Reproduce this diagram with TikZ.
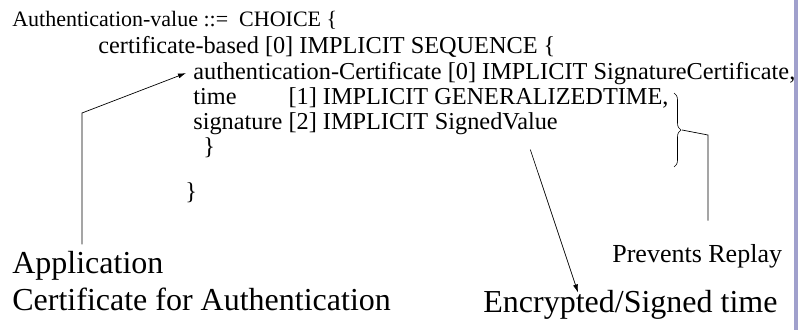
\documentclass[tikz,border=0pt]{standalone}
\usepackage{fontspec}
\setmainfont{Liberation Serif}
\usepackage{tikz}
\usetikzlibrary{positioning,calc,arrows.meta}
\usetikzlibrary{decorations.pathreplacing}
\definecolor{band}{RGB}{160,160,204}
\tikzset{  code/.style={anchor=base west,inner sep=0pt,font=\fontsize{24.3}{24}\selectfont},
  note/.style={anchor=base west,inner sep=0pt,font=\fontsize{32}{32}\selectfont} }

\begin{document}
\begin{tikzpicture}[x=1pt,y=-1pt,->,>={Latex[length=8pt,width=5pt]},line width=0.7pt]
    \useasboundingbox (0,0) rectangle (798,330);
    \fill[band] (794,0) rectangle (798,330);
    % asn.1 text
    \node[code,font=\fontsize{22}{22}\selectfont] (av) at (12,26) {Authentication-value ::=\ \ CHOICE \{};
    \node[code] (cb) at (98,53) {certificate-based [0] IMPLICIT SEQUENCE \{};
    \node[code] (ac) at (193,79) {authentication-Certificate [0] IMPLICIT SignatureCertificate,};
    \node[code] (tm) at (193,104) {\rlap{time}\phantom{signature} [1] IMPLICIT GENERALIZEDTIME,};
    \node[code] (sg) at (193,129) {signature [2] IMPLICIT};
    \node[code,right=6pt of sg.base east,anchor=base west] (sv) {SignedValue};
    \node[code] (sc) at (203,154) {\}};
    \node[code] (cc) at (185,199) {\}};
    % notes
    \node[note] (app) at (12,273) {Application};
    \node[note] (cfa) at (12,310) {Certificate for Authentication};
    \node[code,font=\fontsize{26}{26}\selectfont] (rp) at (612,262) {Prevents Replay};
    \node[note] (et) at (483,312) {Encrypted/Signed time};
    % connectors
    \coordinate (appbend) at (82,113);
    \draw ($(app.north -| appbend)+(0,-6)$) -- (appbend) -- ([xshift=-7pt]ac.west);
    \draw ($(sv.south)+(34,15)$) -- ($(et.north west)+(95,3)$);
    \coordinate (brtop) at (674,93);
    \coordinate (brbot) at (674,167);
    \draw[-,line width=0.6pt,decorate,decoration={brace,amplitude=7pt}] (brtop) -- (brbot);
    \coordinate (brtip) at ($(brtop)!.5!(brbot)+(8,0)$);
    \coordinate (rpbend) at (708,135);
    \draw[-] (brtip) -- (rpbend) -- ($(rp.north -| rpbend)+(0,-23)$);
\end{tikzpicture}
\end{document}
